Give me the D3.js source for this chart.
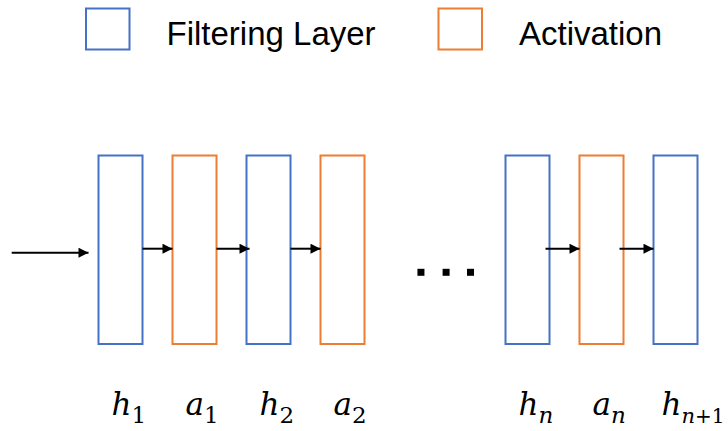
<!DOCTYPE html>
<html>
<head>
<meta charset="utf-8">
<script src="https://cdn.jsdelivr.net/npm/d3@7"></script>
<style>
  html, body { margin: 0; padding: 0; background: #fff; }
  svg { display: block; }
</style>
</head>
<body>
<svg id="chart" width="728" height="431"></svg>
<script>
// ---- data ----
const layerTypes = ["filter", "act", "filter", "act", "filter", "act", "filter"];
const layerSlots = [0, 1, 2, 3, 5.5, 6.5, 7.5];
const layerBase = ["h", "a", "h", "a", "h", "a", "h"];
const layerSub = ["1", "1", "2", "2", "n", "n", "n+1"];
const arrowPairs = [[0, 1], [1, 2], [2, 3], [4, 5], [5, 6]];
const ellipsisSlots = [4.06, 4.40, 4.73];
const legendLabels = ["Filtering Layer", "Activation"];
const legendTypes = ["filter", "act"];

const colors = { filter: "#4472C4", act: "#ED7D31" };

const svg = d3.select("#chart");
const defs = svg.append("defs");
defs.append("marker")
  .attr("id", "head")
  .attr("viewBox", "0 0 10 10")
  .attr("refX", 10).attr("refY", 5)
  .attr("markerUnits", "userSpaceOnUse")
  .attr("markerWidth", 11).attr("markerHeight", 10)
  .attr("orient", "auto")
  .append("path").attr("d", "M0,0 L10,5 L0,10 Z").attr("fill", "#000");

// scales
const x = d3.scaleLinear().domain([0, 7.5]).range([120.5, 675.5]);
const boxW = 44;
const y = d3.scaleLinear().domain([0, 1]).range([344, 155.5]);
const arrowY = 248.7;

// legend
const legendX = d3.scaleOrdinal().domain(legendTypes).range([86, 438.5]);
const lg = svg.append("g");
legendTypes.forEach((t, i) => {
  lg.append("rect")
    .attr("x", legendX(t)).attr("y", 8.5)
    .attr("width", 43.5).attr("height", 41)
    .attr("fill", "none").attr("stroke", colors[t]).attr("stroke-width", 2);
  lg.append("text")
    .attr("x", legendX(t) + 80.5).attr("y", 45)
    .attr("font-family", "Liberation Sans, Arial, sans-serif")
    .attr("font-size", 33)
    .attr("fill", "#000")
    .text(legendLabels[i]);
});

// input arrow
svg.append("line")
  .attr("x1", 11.7).attr("x2", x(0) - boxW / 2 - 10)
  .attr("y1", arrowY + 4).attr("y2", arrowY + 4)
  .attr("stroke", "#000").attr("stroke-width", 2)
  .attr("marker-end", "url(#head)");

// boxes
svg.append("g").selectAll("rect")
  .data(layerTypes)
  .join("rect")
  .attr("x", (d, i) => x(layerSlots[i]) - boxW / 2)
  .attr("y", y(1))
  .attr("width", boxW)
  .attr("height", y(0) - y(1))
  .attr("fill", "none")
  .attr("stroke", d => colors[d])
  .attr("stroke-width", 2);

// arrows between
svg.append("g").selectAll("line")
  .data(arrowPairs)
  .join("line")
  .attr("x1", d => x(layerSlots[d[0]]) + boxW / 2 - (d[0] >= 4 ? 4 : 0))
  .attr("x2", d => x(layerSlots[d[1]]) - boxW / 2 + (d[0] === 1 ? 3 : 0))
  .attr("y1", arrowY).attr("y2", arrowY)
  .attr("stroke", "#000").attr("stroke-width", 2)
  .attr("marker-end", "url(#head)");

// ellipsis dots
svg.append("g").selectAll("rect")
  .data(ellipsisSlots)
  .join("rect")
  .attr("x", d => x(d) - 3.5)
  .attr("y", 272.3 - 3.5)
  .attr("width", 7).attr("height", 7)
  .attr("fill", "#000");

// labels
const lab = svg.append("g")
  .attr("font-family", "DejaVu Serif, serif")
  .attr("fill", "#000");
layerBase.forEach((b, i) => {
  const off = layerSub[i].length > 1 ? -14 : -9;
  const t = lab.append("text")
    .attr("x", x(layerSlots[i]) + off)
    .attr("y", 415);
  t.append("tspan")
    .attr("font-style", "italic")
    .attr("font-size", 31)
    .text(b);
  const isNum = /^\d+$/.test(layerSub[i]);
  if (layerSub[i] === "n+1") {
    t.append("tspan").attr("dy", 8).attr("font-size", 21).attr("font-style", "italic").text("n");
    t.append("tspan").attr("font-size", 20).text("+1");
  } else {
    t.append("tspan")
      .attr("dy", 8)
      .attr("font-size", 23)
      .attr("font-style", isNum ? "normal" : "italic")
      .text(layerSub[i]);
  }
});
</script>
</body>
</html>
